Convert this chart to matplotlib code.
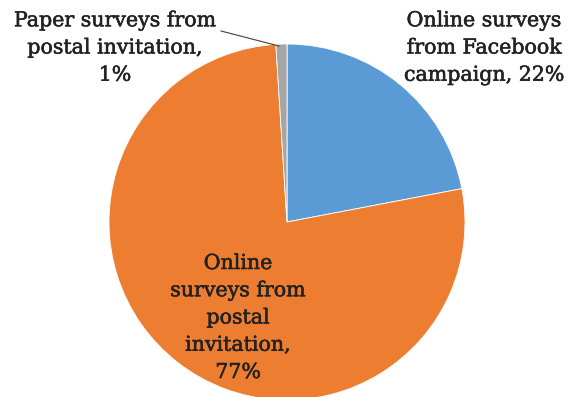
import matplotlib.pyplot as plt
import matplotlib.patheffects as pe

labels = ["Online surveys\nfrom Facebook\ncampaign, 22%",
          "Online\nsurveys from\npostal\ninvitation,\n77%",
          "Paper surveys from\npostal invitation,\n1%"]
shares = [22, 77, 1]
colors = ["#5B9BD5", "#ED7D31", "#A5A5A5"]

W, H = 574, 397
fig = plt.figure(figsize=(W / 100, H / 100), dpi=100)
ax = fig.add_axes([0, 0, 1, 1])

cx, cy, r = 287, H - 222, 178
ax.pie(shares, colors=colors, startangle=90, counterclock=False,
       center=(cx, cy), radius=r, frame=True,
       wedgeprops=dict(linewidth=0.6, edgecolor="white"))
ax.set_xlim(0, W)
ax.set_ylim(0, H)
ax.set_aspect("equal")
ax.axis("off")

ink = "#222222"
font = dict(family="DejaVu Serif", fontsize=14.8, color=ink,
            ha="center", va="center", linespacing=1.55,
            path_effects=[pe.withStroke(linewidth=0.4, foreground=ink)])
ax.text(484, H - 48, labels[0], **font)
ax.text(238, H - 318, labels[1], **font)
ax.text(115, H - 48, labels[2], **font)

# leader line for the small slice
ax.plot([221, 279], [H - 31, H - 46], color="#404040", lw=0.8)

fig.savefig("out.png", dpi=100)
